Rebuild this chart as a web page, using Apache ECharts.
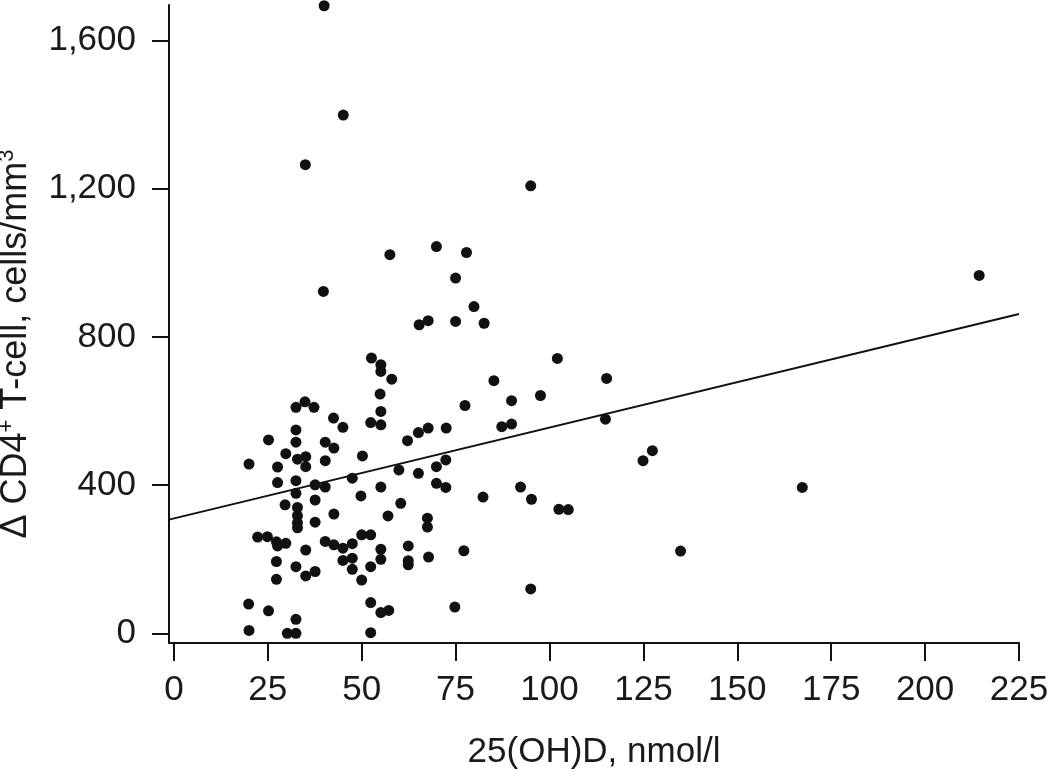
<!DOCTYPE html>
<html>
<head>
<meta charset="utf-8">
<script src="https://cdn.jsdelivr.net/npm/echarts@6/dist/echarts.min.js"></script>
<style>
html,body{margin:0;padding:0;background:#fff;}
#chart{width:1050px;height:779px;}
</style>
</head>
<body>
<div id="chart"></div>
<script>
// 25(OH)D, nmol/l
const vitD = [
  25.2, 20.0, 27.6, 29.8, 27.6, 29.6, 22.3, 24.9, 27.3, 27.6, 29.8, 27.3, 27.3, 19.9, 25.2, 20.0, 30.2,
  54.9, 32.5, 34.9, 37.3, 55.1, 42.5, 45.0, 52.4, 55.1, 32.5, 32.5, 40.3, 42.6, 32.9, 35.1, 35.1, 40.3,
  50.2, 47.5, 55.1, 32.5, 32.5, 37.6, 40.3, 37.6, 49.8, 32.9, 32.9, 32.9, 32.9, 37.6, 42.6, 57.0, 35.1,
  40.3, 42.6, 45.0, 47.5, 50.0, 52.4, 45.0, 47.5, 47.5, 55.1, 55.1, 52.4, 50.0, 32.5, 35.1, 37.6, 52.4,
  55.1, 57.2, 32.5, 32.5, 52.4,
  77.5, 89.9, 97.6, 62.2, 65.1, 67.7, 72.5, 87.3, 89.9, 59.9, 65.1, 69.9, 72.4, 69.9, 72.4, 82.3, 92.3,
  95.2, 102.5, 105.0, 60.4, 67.5, 67.5, 62.4, 62.4, 62.4, 67.8, 77.2, 95.0, 74.8,
  57.5, 39.8, 52.6, 55.1, 55.1, 58.0,
  69.9, 77.9, 75.0, 79.9, 65.3, 67.7, 75.0, 82.6, 102.1, 85.2,
  40.0, 45.1, 35.0, 95.0,
  214.4, 115.2, 114.9, 127.4, 124.9, 167.3, 134.9
];
// Δ CD4+ T-cell, cells/mm3
const cd4Change = [
  522, 457, 449, 485, 407, 347, 260, 261, 247, 236, 243, 194, 146, 79, 61, 8, 0,
  646, 610, 625, 610, 599, 581, 556, 569, 563, 549, 516, 516, 500, 470, 477, 450, 466,
  479, 419, 395, 412, 378, 401, 395, 360, 371, 340, 318, 298, 285, 300, 322, 317, 225,
  248, 239, 230, 242, 266, 266, 197, 203, 173, 227, 200, 180, 144, 180, 155, 167, 83,
  56, 62, 38, 0, 2,
  615, 628, 642, 520, 542, 554, 554, 558, 565, 441, 432, 450, 468, 405, 394, 368, 395,
  362, 335, 334, 351, 311, 287, 236, 196, 185, 206, 223, 120, 71,
  1022, 923, 743, 725, 707, 686,
  1044, 1028, 959, 882, 833, 844, 842, 837, 742, 682,
  1694, 1399, 1265, 1208,
  966, 688, 578, 493, 466, 394, 222
];
// regression line endpoints [x, y]
const fitLine = [[-1.3, 307], [225, 862]];
const xTicks = [0, 25, 50, 75, 100, 125, 150, 175, 200, 225];
const yTicks = [0, 400, 800, 1200, 1600];

const points = vitD.map((x, i) => [x, cd4Change[i]]);
const FONT = '"Liberation Sans", Arial, Helvetica, sans-serif';
const chart = echarts.init(document.getElementById('chart'), null, {renderer: 'canvas'});
chart.setOption({
  animation: false,
  backgroundColor: '#ffffff',
  grid: {left: 169, right: 31, top: 5, bottom: 136, containLabel: false, outerBoundsMode: 'none'},
  xAxis: {
    type: 'value', min: -1.3, max: 225,
    name: '25(OH)D, nmol/l', nameLocation: 'middle', nameGap: 92,
    nameTextStyle: {fontFamily: FONT, fontSize: 35, color: '#1a1a1a'},
    axisLine: {show: true, onZero: false, lineStyle: {color: '#111', width: 2}},
    axisTick: {show: true, customValues: xTicks, length: 18, inside: false, lineStyle: {color: '#111', width: 2}},
    axisLabel: {show: true, customValues: xTicks, margin: 30, fontFamily: FONT, fontSize: 35, color: '#1a1a1a'},
    splitLine: {show: false}
  },
  yAxis: {
    type: 'value', min: -26, max: 1696,
    name: '{n|Δ CD4}{s|+}{n| T-cell, cells/mm}{s|3}', nameLocation: 'middle', nameGap: 133, nameRotate: 90,
    nameTextStyle: {
      fontFamily: FONT, fontSize: 36, color: '#1a1a1a', padding: [0, 40, 0, 0],
      rich: {
        n: {fontFamily: FONT, fontSize: 36, color: '#1a1a1a', lineHeight: 40},
        s: {fontFamily: FONT, fontSize: 22, color: '#1a1a1a', verticalAlign: 'top', lineHeight: 40, padding: [0, 0, 14, 0]}
      }
    },
    axisLine: {show: true, onZero: false, lineStyle: {color: '#111', width: 2}},
    axisTick: {show: true, customValues: yTicks, length: 17, inside: false, lineStyle: {color: '#111', width: 2}},
    axisLabel: {
      show: true, customValues: yTicks, margin: 33, fontFamily: FONT, fontSize: 35, color: '#1a1a1a',
      formatter: v => v.toLocaleString('en-US')
    },
    splitLine: {show: false}
  },
  series: [
    {
      type: 'scatter', data: points, symbol: 'circle', symbolSize: 11,
      itemStyle: {color: '#111', opacity: 1}, z: 3
    },
    {
      type: 'line', data: fitLine, symbol: 'none', silent: true,
      lineStyle: {color: '#111', width: 2}, z: 2
    }
  ]
});
</script>
</body>
</html>
